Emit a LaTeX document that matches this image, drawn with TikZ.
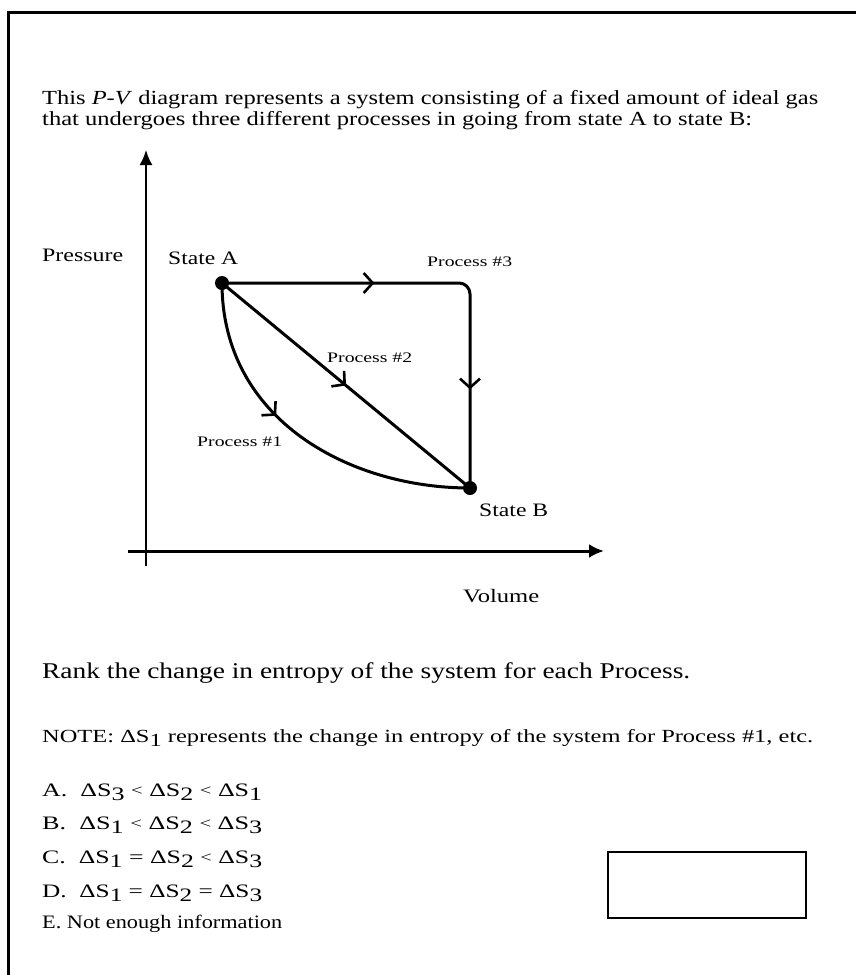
\documentclass[tikz,border=0pt]{standalone}
\usepackage{fontspec}
\setmainfont{Liberation Serif}
\usetikzlibrary{arrows.meta,decorations.markings}
\newcommand{\dS}[1]{ΔS\raisebox{-0.45ex}{#1}}
\newcommand{\lt}{\raisebox{0.1ex}{\fontsize{15}{15}\selectfont <}}
\newcommand{\wtext}[2]{\resizebox{#1}{\height}{#2}}

\tikzset{
  proc/.style={line width=3pt,postaction={decorate}},
  chev/.style={decoration={markings,mark=at position #1 with {\arrow{Straight Barb[length=9pt,width=20pt,line width=2.6pt]}}}},
  dot/.style={circle,fill,inner sep=0pt,minimum size=14pt},
  lab/.style={font=\fontsize{19}{22}\selectfont,inner sep=0pt},
  small/.style={font=\fontsize{14.5}{17}\selectfont,inner sep=0pt},
  txt/.style={anchor=mid west,inner sep=0pt,font=\fontsize{20}{22}\selectfont},
  opt/.style={anchor=mid west,inner sep=0pt,font=\fontsize{19}{22}\selectfont},
}

\begin{document}
\begin{tikzpicture}[x=1pt,y=-1pt,>=Latex]
  \useasboundingbox (0,0) rectangle (856,975);
  \draw[line width=3pt] (8,975) -- (8,12) -- (856,12);

  \node[txt] (intro1) at (42,102) {\wtext{776pt}{This \textit{P-V} diagram represents a system consisting of a fixed amount of ideal gas}};
  \node[txt] (intro2) at (42,123) {\wtext{710pt}{that undergoes three different processes in going from state A to state B:}};

  % axes
  \coordinate (ybot) at (146,566);
  \coordinate (ytop) at (146,150);
  \coordinate (xleft) at (128,551);
  \coordinate (xright) at (604,551);
  \draw[line width=2pt,-{Latex[length=15pt,width=13pt]}] (ybot) -- (ytop);
  \draw[line width=3pt,-{Latex[length=15pt,width=14pt]}] (xleft) -- (xright);
  \node[lab,anchor=west] (pres) at (42,255) {\wtext{81pt}{Pressure}};
  \node[lab,anchor=west] (vol) at (463,596) {\wtext{76pt}{Volume}};

  \node[dot] (A) at (222,283) {};
  \node[dot] (B) at (470,488) {};
  \node[lab,anchor=west] (labA) at (168,258) {\wtext{70pt}{State A}};
  \node[lab,anchor=west] (labB) at (479,510) {\wtext{69pt}{State B}};

  \draw[proc,chev=0.41] (A.center) .. controls (222,420) and (350,488) .. (B.center);
  \draw[proc,chev=0.5] (A.center) -- (B.center);
  \draw[proc,rounded corners=11pt,
    decoration={markings,
      mark=at position 0.34 with {\arrow{Straight Barb[length=9pt,width=20pt,line width=2.6pt]}},
      mark=at position 0.78 with {\arrow{Straight Barb[length=9pt,width=20pt,line width=2.6pt]}}}]
    (A.center) -| (B.center);

  \node[small,anchor=west] (p1) at (197,442) {\wtext{85pt}{Process \#1}};
  \node[small,anchor=west] (p2) at (327,358) {\wtext{85pt}{Process \#2}};
  \node[small,anchor=west] (p3) at (427,262) {\wtext{85pt}{Process \#3}};

  \node[txt,font=\fontsize{22.5}{26}\selectfont] (rank) at (42,676) {\wtext{648pt}{Rank the change in entropy of the system for each Process.}};
  \node[txt,font=\fontsize{18.5}{21}\selectfont] (note) at (42,740) {\wtext{771pt}{NOTE: \dS{1} represents the change in entropy of the system for Process \#1, etc.}};

  \node[opt] (optA) at (42,794) {\wtext{220pt}{A.\ \ \dS{3} \lt{} \dS{2} \lt{} \dS{1}}};
  \node[opt] (optB) at (42,827) {\wtext{220pt}{B.\ \ \dS{1} \lt{} \dS{2} \lt{} \dS{3}}};
  \node[opt] (optC) at (42,861) {\wtext{220pt}{C.\ \ \dS{1} = \dS{2} \lt{} \dS{3}}};
  \node[opt] (optD) at (42,895) {\wtext{220pt}{D.\ \ \dS{1} = \dS{2} = \dS{3}}};
  \node[opt] (optE) at (42,926) {\wtext{240pt}{E. Not enough information}};

  \node[draw,line width=1.5pt,minimum width=198pt,minimum height=66pt,anchor=north west] (answer) at (607,851) {};
\end{tikzpicture}
\end{document}
